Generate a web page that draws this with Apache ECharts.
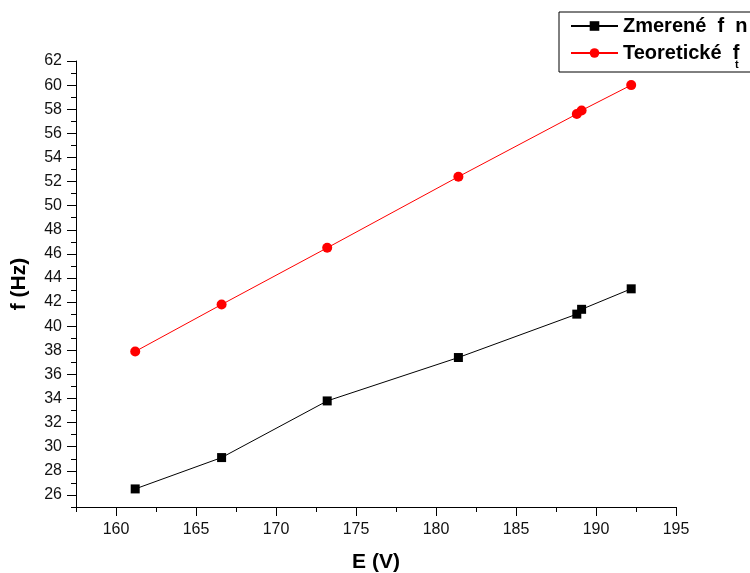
<!DOCTYPE html>
<html>
<head>
<meta charset="utf-8">
<script src="https://cdn.jsdelivr.net/npm/echarts@6/dist/echarts.min.js"></script>
<style>
  html, body { margin: 0; padding: 0; background: #fff; }
  #chart { width: 750px; height: 573px; }
</style>
</head>
<body>
<div id="chart"></div>
<script>
// voltage E (V)
var voltage = [161.2, 166.6, 173.2, 181.4, 188.8, 189.1, 192.2];
// measured and theoretical frequency f (Hz)
var measured = [26.5, 29.1, 33.8, 37.4, 41.0, 41.4, 43.1];
var theoretical = [37.9, 41.8, 46.5, 52.4, 57.6, 57.9, 60.0];
// tick labels
var xTicks = [160, 165, 170, 175, 180, 185, 190, 195];
var yTicks = [26, 28, 30, 32, 34, 36, 38, 40, 42, 44, 46, 48, 50, 52, 54, 56, 58, 60, 62];

var font = 'Arial, "Liberation Sans", sans-serif';

function pairs(xs, ys) {
  return xs.map(function (x, i) { return [x, ys[i]]; });
}

var chart = echarts.init(document.getElementById('chart'));

var option = {
  backgroundColor: '#fff',
  animation: false,
  grid: { left: 76, right: 74, top: 61, bottom: 66, outerBoundsMode: 'none', containLabel: false },
  legend: {
    orient: 'vertical',
    left: 559,
    top: 12,
    borderColor: '#000',
    borderWidth: 1,
    padding: [4, 80, 9, 11],
    itemWidth: 47,
    itemHeight: 12,
    itemGap: 7,
    textStyle: { fontSize: 20, fontWeight: 'bold', color: '#000', fontFamily: font, lineHeight: 20 },
    formatter: function (name) {
      return name === 'm' ? 'Zmerené  f  n' : 'Teoretické  f';
    },
    data: ['m', 't']
  },
  graphic: [{
    type: 'text',
    left: 735,
    top: 59,
    style: { text: 't', fontSize: 11, fontWeight: 'bold', fill: '#000', fontFamily: font }
  }],
  xAxis: [{
    type: 'value',
    min: 157.5,
    max: 195,
    position: 'bottom',
    name: 'E (V)',
    nameLocation: 'middle',
    nameGap: 45,
    nameTextStyle: { fontSize: 21, fontWeight: 'bold', color: '#000', fontFamily: font },
    axisLine: { show: true, lineStyle: { color: '#000', width: 1 } },
    axisTick: { show: true, length: 9, customValues: xTicks, lineStyle: { color: '#000' } },
    axisLabel: { customValues: xTicks, fontSize: 16, color: '#111', fontFamily: font, margin: 15 },
    splitLine: { show: false }
  }, {
    // minor ticks
    type: 'value',
    min: 157.5,
    max: 195,
    interval: 2.5,
    position: 'bottom',
    axisLine: { show: false },
    axisTick: { show: true, length: 5, lineStyle: { color: '#000' } },
    axisLabel: { show: false },
    splitLine: { show: false }
  }],
  yAxis: [{
    type: 'value',
    min: 25,
    max: 62,
    position: 'left',
    name: 'f (Hz)',
    nameLocation: 'middle',
    nameGap: 46,
    nameTextStyle: { fontSize: 21, fontWeight: 'bold', color: '#000', fontFamily: font },
    axisLine: { show: true, lineStyle: { color: '#000', width: 1 } },
    axisTick: { show: true, length: 9, customValues: yTicks, lineStyle: { color: '#000' } },
    axisLabel: { customValues: yTicks, fontSize: 16, color: '#111', fontFamily: font, margin: 14 },
    splitLine: { show: false }
  }, {
    type: 'value',
    min: 25,
    max: 62,
    interval: 1,
    position: 'left',
    axisLine: { show: false },
    axisTick: { show: true, length: 5, lineStyle: { color: '#000' } },
    axisLabel: { show: false },
    splitLine: { show: false }
  }],
  series: [{
    name: 'm',
    type: 'line',
    data: pairs(voltage, measured),
    symbol: 'rect',
    symbolSize: 9,
    itemStyle: { color: '#000' },
    lineStyle: { color: '#000', width: 1 }
  }, {
    name: 't',
    type: 'line',
    data: pairs(voltage, theoretical),
    symbol: 'circle',
    symbolSize: 10,
    itemStyle: { color: '#ff0000' },
    lineStyle: { color: '#ff0000', width: 1 }
  }]
};

chart.setOption(option);
</script>
</body>
</html>
